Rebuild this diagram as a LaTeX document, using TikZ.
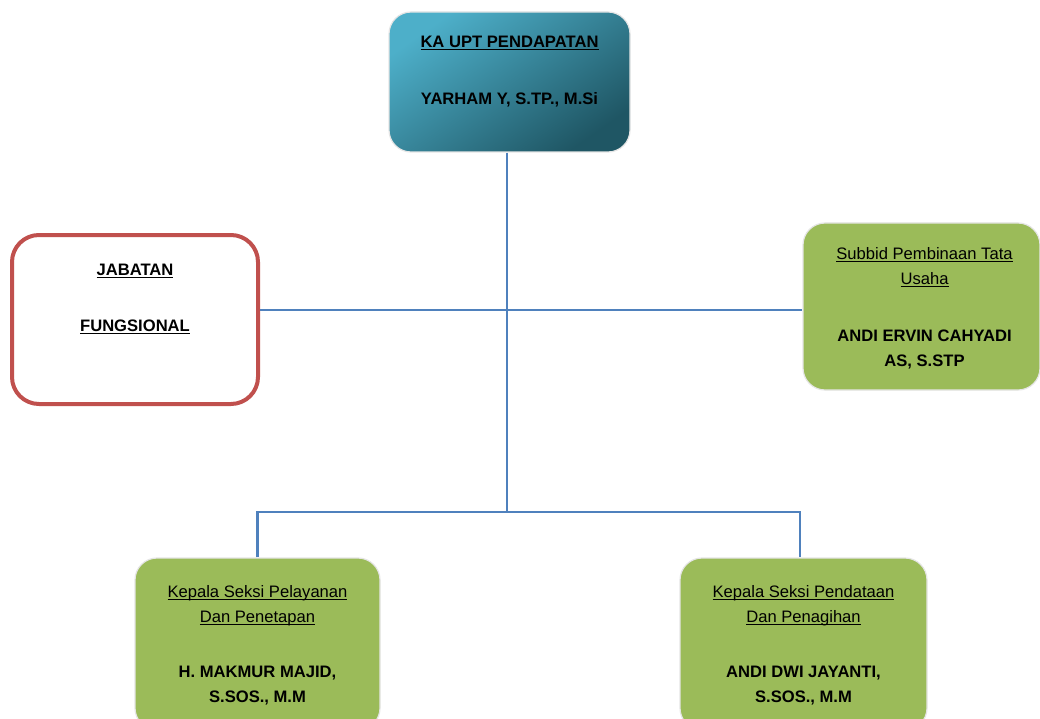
\documentclass[tikz,border=0pt]{standalone}
\usepackage{fontspec}
\setmainfont{Liberation Sans}
\usetikzlibrary{calc}
\definecolor{tealL}{HTML}{4DAFC9}
\definecolor{tealD}{HTML}{1F5664}
\definecolor{ogreen}{HTML}{9BBB59}
\definecolor{ored}{HTML}{C0504D}
\definecolor{oblue}{HTML}{4F81BD}
\newcommand\ulin[1]{\setbox0\hbox{#1}\rlap{\rule[-2.6pt]{\wd0}{1.2pt}}\box0}
\newcommand\fst{\rule{0pt}{13pt}}
\tikzset{
  box/.style={rounded corners=22pt, inner sep=0pt, draw=black!10, line width=1.2pt},
  greenbox/.style={box, fill=ogreen},
  tealbox/.style={box, top color=tealL, bottom color=tealD, shading angle=35},
  redbox/.style={rounded corners=27pt, inner sep=0pt, draw=ored, line width=4pt, fill=white},
  txt/.style={anchor=north, inner sep=0pt, align=center, text=black,
    font=\fontsize{16.6}{25}\selectfont},
  conn/.style={draw=oblue, line width=2.2pt}
}
\begin{document}
\begin{tikzpicture}[x=1pt,y=-1pt]
\useasboundingbox[fill=white] (0,0) rectangle (1040,719);
% boxes
\node[tealbox, minimum width=241pt, minimum height=140pt] (top) at (509.5,82) {};
\node[redbox, minimum width=246pt, minimum height=169pt] (fung) at (135,319.5) {};
\node[greenbox, minimum width=237pt, minimum height=167pt] (subbid) at (921.5,306.5) {};
\node[greenbox, minimum width=245pt, minimum height=172pt] (kasi1) at (257.5,644) {};
\node[greenbox, minimum width=247pt, minimum height=172pt] (kasi2) at (803.5,644) {};
% texts
\node[txt] (toptxt) at ([yshift=-23pt]top.north)
  {\fst\textbf{\ulin{KA UPT PENDAPATAN}}\\[32pt]\textbf{YARHAM Y, S.TP., M.Si}};
\node[txt] (fungtxt) at ([yshift=-29pt]fung.north)
  {\fst\textbf{\ulin{JABATAN}}\\[31pt]\textbf{\ulin{FUNGSIONAL}}};
\node[txt] (subbidtxt) at ([xshift=3pt,yshift=-24pt]subbid.north)
  {\fst\ulin{Subbid Pembinaan Tata}\\\ulin{Usaha}\\[32pt]\textbf{ANDI ERVIN CAHYADI}\\\textbf{AS, S.STP}};
\node[txt] (kasi1txt) at ([yshift=-27pt]kasi1.north)
  {\fst\ulin{Kepala Seksi Pelayanan}\\\ulin{Dan Penetapan}\\[30pt]\textbf{H. MAKMUR MAJID,}\\\textbf{S.SOS., M.M}};
\node[txt] (kasi2txt) at ([yshift=-27pt]kasi2.north)
  {\fst\ulin{Kepala Seksi Pendataan}\\\ulin{Dan Penagihan}\\[30pt]\textbf{ANDI DWI JAYANTI,}\\\textbf{S.SOS., M.M}};
% connectors
\coordinate (mid) at (507,310);
\coordinate (bar) at (507,512);
\draw[conn] (mid |- top.south) -- (bar);
\draw[conn] (fung.east |- mid) -- (subbid.west |- mid);
\draw[conn] (kasi1.north) |- (bar) -| ([xshift=-3.5pt]kasi2.north);
\end{tikzpicture}
\end{document}
